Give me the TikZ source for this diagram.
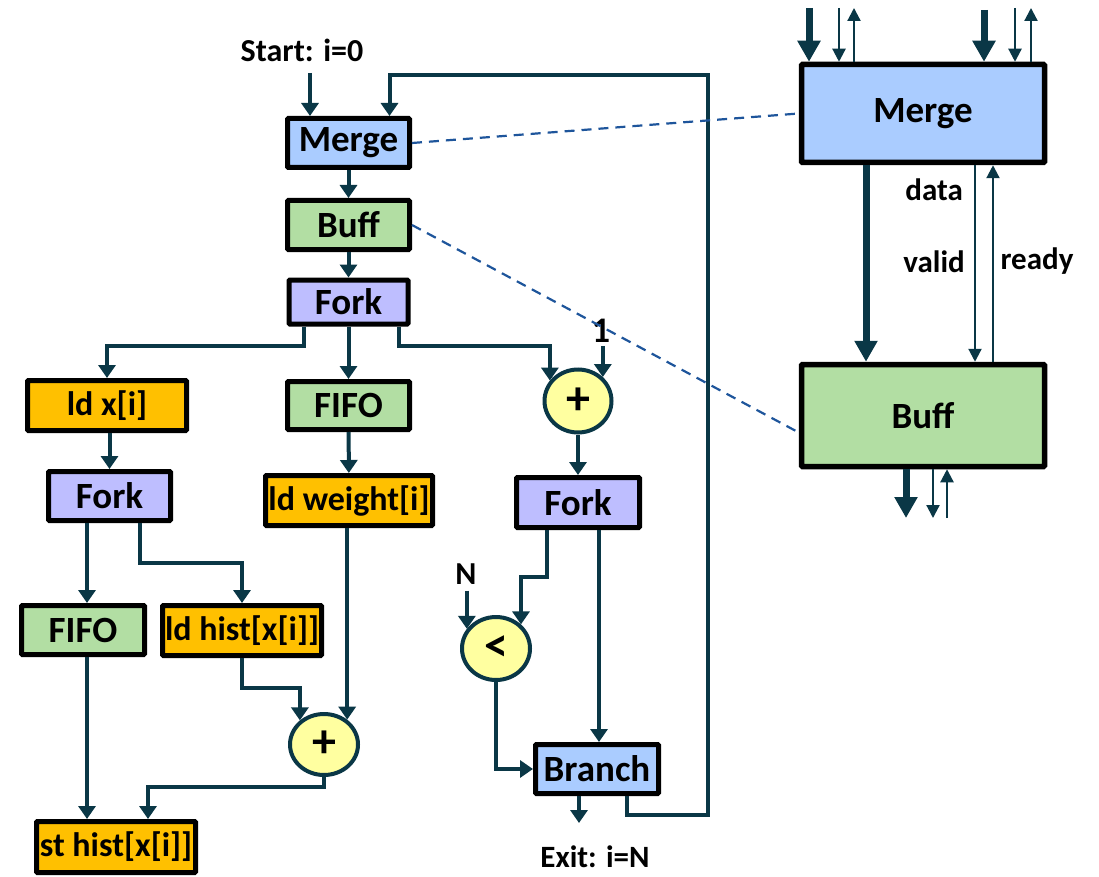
\documentclass[tikz,border=0pt]{standalone}
\usepackage{fontspec}
\setmainfont{Carlito}
\usetikzlibrary{arrows.meta,shapes.geometric,calc}
\definecolor{ac}{RGB}{10,55,70}
\definecolor{mblue}{RGB}{170,204,255}
\definecolor{bgreen}{RGB}{178,222,163}
\definecolor{flav}{RGB}{190,190,255}
\definecolor{lorange}{RGB}{255,192,0}
\definecolor{cyel}{RGB}{255,255,160}
\definecolor{dblue}{RGB}{30,85,155}
\tikzset{
  box/.style={draw=black,line width=5pt,inner sep=0pt,rounded corners=1pt,
    font=\bfseries\fontsize{37}{40}\selectfont},
  ldbox/.style={box,fill=lorange,font=\bfseries\fontsize{34}{38}\selectfont},
  bigbox/.style={box,line width=5.5pt},
  circ/.style={ellipse,draw=ac,fill=cyel,line width=4pt,inner sep=0pt,
    font=\bfseries\fontsize{48}{50}\selectfont},
  lbl/.style={inner sep=0pt,font=\bfseries\fontsize{32}{36}\selectfont},
  slbl/.style={inner sep=0pt,font=\bfseries\fontsize{31}{34}\selectfont},
  arr/.style={draw=ac,line width=4pt,-{Triangle[length=13pt,width=17pt]}},
  thickarr/.style={draw=ac,line width=7pt,-{Triangle[length=21pt,width=22pt]}},
  thinarr/.style={draw=ac,line width=2.2pt,-{Triangle[length=13pt,width=13pt]}},
  dline/.style={draw=dblue,line width=2.2pt,dash pattern=on 10pt off 7pt},
}
\begin{document}
\begin{tikzpicture}[x=1pt,y=-1pt]
\useasboundingbox (0,0) rectangle (1099,877);
% left graph nodes
\node[box,fill=mblue,minimum width=122pt,minimum height=49pt] (merge) at (348.5,143) {Merge};
\node[box,fill=bgreen,minimum width=122pt,minimum height=49pt] (buff) at (348.5,225) {Buff};
\node[box,fill=flav,minimum width=119pt,minimum height=44pt] (fork) at (348.5,302) {Fork};
\node[ldbox,minimum width=159pt,minimum height=50pt] (ldx) at (107,405.5) {ld x[i]};
\node[box,fill=bgreen,minimum width=122pt,minimum height=48pt] (fifoa) at (348.5,405.5) {FIFO};
\node[box,fill=flav,minimum width=122pt,minimum height=49pt] (forkb) at (109.5,496) {Fork};
\node[ldbox,minimum width=167pt,minimum height=50pt] (ldw) at (349,500.5) {ld weight[i]};
\node[box,fill=bgreen,minimum width=123pt,minimum height=49pt] (fifob) at (83,630) {FIFO};
\node[ldbox,minimum width=159pt,minimum height=50pt] (ldh) at (242,630.5) {ld hist[x[i]]};
\node[ldbox,minimum width=159pt,minimum height=51pt] (st) at (116,847) {st hist[x[i]]};
\node[circ,minimum width=68pt,minimum height=61pt] (plusb) at (324,744.5) {+};
\node[circ,minimum width=67pt,minimum height=63pt] (plusa) at (578,401) {+};
\node[box,fill=flav,minimum width=123pt,minimum height=50pt] (forkc) at (578,502.5) {Fork};
\node[circ,minimum width=68pt,minimum height=63pt] (lt) at (496,648.5) {<};
\node[box,fill=mblue,minimum width=123pt,minimum height=49pt] (branch) at (597,769) {Branch};
% labels
\node[lbl] (start) at (302,50) {Start: i=0};
\node[lbl,font=\bfseries\fontsize{31}{34}\selectfont] (exit) at (595,857) {Exit: i=N};
\node[lbl,font=\bfseries\fontsize{36}{38}\selectfont] (one) at (601,331) {1};
\node[lbl] (nn) at (466,574) {N};
% big nodes
\node[bigbox,fill=mblue,minimum width=243pt,minimum height=98pt] (bmerge) at (923,113.5) {Merge};
\node[bigbox,fill=bgreen,minimum width=243pt,minimum height=102pt] (bbuff) at (923,415.5) {Buff};
\node[slbl,anchor=east] (data) at (963,190) {data};
\node[slbl,anchor=east] (valid) at (965,262) {valid};
\node[slbl] (ready) at (1037,261) {ready};
% coordinates
\coordinate (s1) at (310,73);
\coordinate (loopR) at (708,815);
\coordinate (loopT) at (708,75);
\coordinate (exitc) at (579,823);
% connectors left graph
\draw[arr] (s1) -- (s1 |- merge.north);
\draw[arr] ([xshift=30pt]branch.south) |- (loopR) -- (loopT) -| ([xshift=41pt]merge.north);
\draw[arr] (merge) -- (buff);
\draw[arr] (buff) -- (fork);
\draw[arr] ([xshift=-45pt]fork.south) |- (210,346) -| (ldx.north);
\draw[arr] (fork) -- (fifoa);
\draw[arr] ([xshift=50pt]fork.south) |- (500,346) -| (plusa.144);
\draw[arr] ([yshift=-3pt]one.south -| plusa.44) -- (plusa.44);
\draw[arr] (plusa) -- (forkc);
\draw[arr] (ldx.south -| forkb.north) -- (forkb.north);
\draw[arr] (fifoa) -- (ldw);
\draw[arr] ([xshift=-22.5pt]forkb.south) -- ([xshift=4pt]fifob.north);
\draw[arr] ([xshift=30.5pt]forkb.south) |- (200,563) -| (ldh.north);
\draw[arr] (ldw.south -| plusb.47) -- (plusb.47);
\draw[arr] (ldh.south) |- (280,688) -| (plusb.135);
\draw[arr] ([xshift=-29pt]st.north |- fifob.south) -- ([xshift=-29pt]st.north);
\draw[arr] (plusb.south) |- (200,787) -| ([xshift=32pt]st.north);
\draw[arr] ([xshift=-31pt]forkc.south) |- (530,577) -| (lt.44);
\draw[arr] ([yshift=-6pt]lt.146 |- nn.south) -- (lt.146);
\draw[arr] ([xshift=21pt]forkc.south) -- ([xshift=2pt]branch.north);
\draw[arr] (lt.south) |- (branch.west);
\draw[arr] ([xshift=-18pt]branch.south) -- (exitc);
% dashed
\draw[dline] (merge.east) -- (bmerge.west);
\draw[dline] (buff.east) -- ([yshift=-17pt]bbuff.west);
% big box arrows
\coordinate (t1) at (809,8);
\coordinate (t2) at (839,8);
\coordinate (t3) at (854,8);
\coordinate (t4) at (984,10);
\coordinate (t5) at (1015,8);
\coordinate (t6) at (1031,8);
\draw[thickarr] (t1) -- (t1 |- bmerge.north);
\draw[thinarr] (t2) -- (t2 |- bmerge.north);
\draw[thinarr] (t3 |- bmerge.north) -- (t3);
\draw[thickarr] (t4) -- (t4 |- bmerge.north);
\draw[thinarr] (t5) -- (t5 |- bmerge.north);
\draw[thinarr] (t6 |- bmerge.north) -- (t6);
\coordinate (m1) at (866,0);
\coordinate (m2) at (975,0);
\coordinate (m3) at (993,0);
\draw[thickarr] (bmerge.south -| m1) -- (bbuff.north -| m1);
\draw[thinarr] (bmerge.south -| m2) -- (bbuff.north -| m2);
\draw[thinarr] (bbuff.north -| m3) -- (bmerge.south -| m3);
\coordinate (b1) at (906,518);
\coordinate (b2) at (933,518);
\coordinate (b3) at (947,518);
\draw[thickarr] (bbuff.south -| b1) -- (b1);
\draw[thinarr] (bbuff.south -| b2) -- (b2);
\draw[thinarr] (b3) -- (bbuff.south -| b3);
\end{tikzpicture}
\end{document}
